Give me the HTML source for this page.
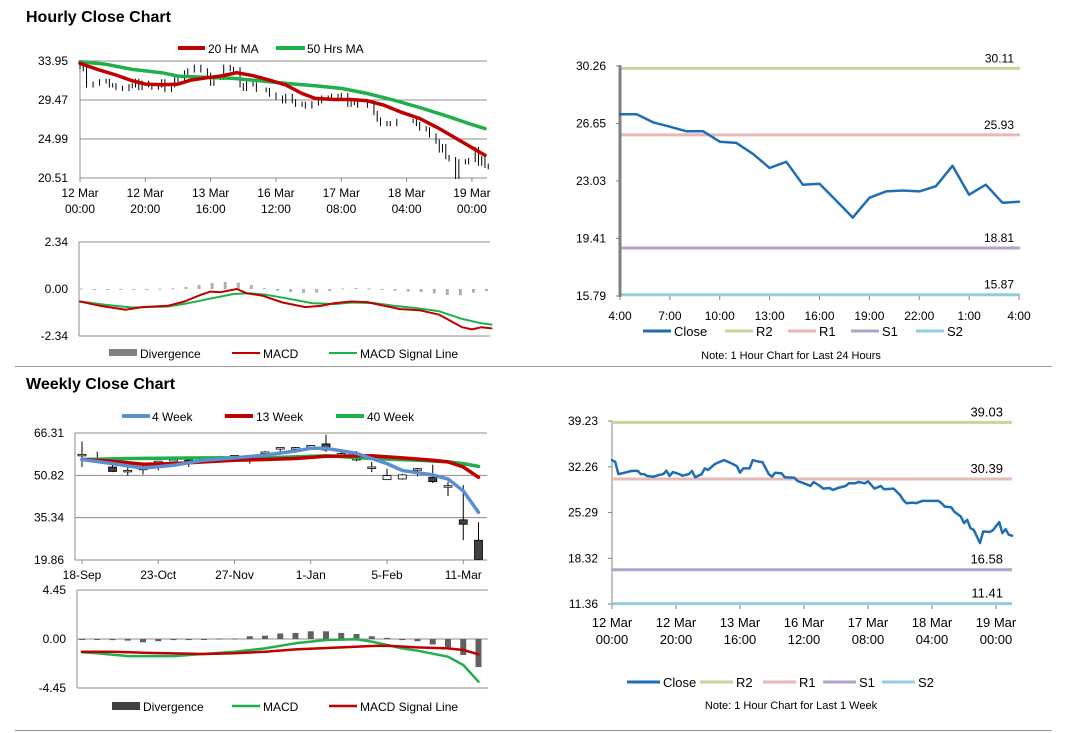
<!DOCTYPE html>
<html><head><meta charset="utf-8">
<style>
html,body{margin:0;padding:0;background:#fff;}
svg{display:block;font-family:"Liberation Sans",Arial,sans-serif;}
</style></head>
<body>
<svg id="s" width="1066" height="733" viewBox="0 0 1066 733" xmlns="http://www.w3.org/2000/svg">
<text x="26" y="22" font-size="16" font-weight="bold" fill="#000">Hourly Close Chart</text>
<text x="26" y="389" font-size="16" font-weight="bold" fill="#000">Weekly Close Chart</text>
<line x1="15" y1="366.5" x2="1052" y2="366.5" stroke="#999" stroke-width="1"/>
<line x1="15" y1="730.5" x2="1052" y2="730.5" stroke="#999" stroke-width="1"/>
</svg>
<script>
// ---------- DATA ----------
const hourIdx = [0,1,2,4,6,8,9,10,11,13,15,16,17,18,19,21,22,24,25,26,28,29,30,32,33,35,37,39,40,41,43,44,46,47,49,50,51,53,54,57,58,60,62,63,65,66,68,69,71,73,74,76,77,79,80,82,83,84,85,88,90,91,92,94,95,97,102,103,104,106,107,109,110,111,112,113,115,116,118,119,121,122,123,124,125];
const hourClose = [33.27,33.02,31.15,31.35,31.61,31.66,31.15,31.15,30.85,30.75,31.05,31.15,31.66,30.85,31.45,31.15,30.90,31.15,31.61,30.65,31.15,32.01,31.76,32.62,32.87,33.27,32.87,32.36,31.35,32.01,32.01,33.27,33.02,32.97,31.15,30.75,31.35,31.25,30.65,30.60,30.09,29.74,29.33,29.94,29.33,28.93,29.03,28.73,29.08,29.33,29.74,29.74,29.94,29.74,30.04,28.93,29.13,29.33,28.83,28.93,27.97,27.21,26.71,26.81,26.71,27.06,27.06,26.71,26.20,26.10,25.40,24.69,23.68,24.18,22.92,22.67,20.65,22.42,22.32,22.57,23.83,22.16,22.77,21.91,21.76];
const hourTickLabels = [["12 Mar","00:00"],["12 Mar","20:00"],["13 Mar","16:00"],["16 Mar","12:00"],["17 Mar","08:00"],["18 Mar","04:00"],["19 Mar","00:00"]];
const hourTickHours = [0,20,40,60,80,100,120];
const ma20Hours = [0,6,11,16,20,25,30,34,39,43,48,53,58,63,68,72,78,83,88,93,98,104,110,117,124];
const ma20Vals = [33.68,32.91,32.34,31.68,31.30,31.22,31.30,31.76,32.03,32.22,32.61,32.26,31.76,31.19,30.22,29.65,29.53,29.53,29.38,28.88,28.11,27.35,26.19,24.66,23.12];
const ma50Hours = [0,8,16,25,30,39,47,55,63,72,80,88,96,104,113,119,124];
const ma50Vals = [33.87,33.57,32.99,32.61,32.22,32.07,31.95,31.68,31.38,31.11,30.80,30.22,29.46,28.61,27.54,26.77,26.19];
const hTicks1 = [33.95,29.47,24.99,20.51];
const macdHHours = [0,6,14,19,27,32,37,40,43,48,51,56,62,69,74,78,83,88,93,98,104,110,117,120,123,126];
const macdHVals = [-0.62,-0.83,-1.03,-0.90,-0.83,-0.62,-0.29,-0.13,-0.16,0,-0.21,-0.34,-0.67,-0.90,-0.83,-0.70,-0.62,-0.65,-0.83,-1.00,-1.06,-1.28,-1.90,-2.01,-1.90,-1.96];
const sigHHours = [0,8,16,27,32,39,47,52,57,63,71,78,83,90,96,103,110,117,122,126];
const sigHVals = [-0.62,-0.79,-0.92,-0.87,-0.74,-0.51,-0.25,-0.21,-0.29,-0.46,-0.70,-0.75,-0.67,-0.70,-0.83,-0.95,-1.11,-1.49,-1.68,-1.77];
const divHVals = [0.02,-0.05,-0.05,-0.04,-0.03,0,0.02,0.04,0.1,0.2,0.3,0.35,0.32,0.2,0.05,-0.08,-0.15,-0.2,-0.18,-0.1,0.02,0.05,0.03,0,-0.08,-0.12,-0.15,-0.22,-0.3,-0.32,-0.18,-0.1];
const macdHTicks = [2.34,0.00,-2.34];

const dayLabels = ["4:00","7:00","10:00","13:00","16:00","19:00","22:00","1:00","4:00"];
const dayClose = [27.23,27.23,26.71,26.44,26.15,26.15,25.50,25.42,24.73,23.85,24.23,22.79,22.85,21.80,20.72,21.97,22.37,22.43,22.37,22.70,23.98,22.16,22.79,21.66,21.72];
const dayTicks = [30.26,26.65,23.03,19.41,15.79];
const dayLevels = [30.11,25.93,18.81,15.87];
const weekLevels = [39.03,30.39,16.58,11.41];
const levelNames = ["R2","R1","S1","S2"];
const weekTicks = [39.23,32.26,25.29,18.32,11.36];

const weekLabels = ["18-Sep","23-Oct","27-Nov","1-Jan","5-Feb","11-Mar"];
const wOpen  = [58.22,56.72,53.86,52.36,53.61,55.73,56.35,56.35,56.97,57.34,57.84,56.97,59.09,60.71,60.71,61.45,62.33,58.5,56.72,53.61,49.25,49.50,52.99,50.12,46.76,34.55,27.08];
const wClose = [58.22,56.72,52.24,52.36,52.86,55.73,56.35,56.10,56.97,57.34,57.84,56.97,59.09,60.71,60.71,61.45,60.08,58.5,56.72,53.61,50.74,50.99,52.99,48.50,46.76,32.93,20.11];
const wHigh  = [63.20,59.46,54.73,53.86,54.48,55.98,56.72,56.72,57.22,57.97,58.22,58.22,59.71,60.96,61.20,61.95,65.69,59.2,59.71,55.73,53.23,51.37,53.48,54.73,48.50,47.26,33.68];
const wLow   = [53.86,55.48,51.99,50.74,51.12,52.61,55.98,53.86,56.72,56.97,57.47,55.10,58.22,59.46,59.71,60.71,59.46,58.0,55.98,52.00,49.25,49.25,50.50,48.00,43.27,27.08,19.86];
const ma4W = [0,2,4,6,8,10,12,14,15,16,18,20,21,23,24,25,26];
const ma4V = [56.60,55.10,53.48,54.48,56.35,57.22,58.22,59.71,60.71,60.71,58.84,55.10,52.61,50.99,49.50,45.14,37.29];
const ma13W = [0,2,4,6,8,10,12,14,16,19,21,23,24,25,26];
const ma13V = [56.60,55.98,54.85,55.10,55.73,56.35,56.60,56.97,57.84,57.97,57.22,56.35,55.73,53.86,50.12];
const ma40W = [0,3,8,12,16,19,22,24,25,26];
const ma40V = [56.60,56.97,57.22,57.22,57.97,56.97,56.35,55.73,55.10,54.11];
const wTicks = [66.31,50.82,35.34,19.86];
const macdWW = [0,1,3,6,10,12,14,16,18,19,21,22,24,25,26];
const macdWV = [-1.21,-1.30,-1.55,-1.55,-1.15,-0.85,-0.39,-0.09,-0.03,-0.24,-0.85,-1.06,-1.61,-2.36,-3.88];
const sigWW = [0,2,4,8,10,12,14,17,19,20,22,24,25,26];
const sigWV = [-1.15,-1.15,-1.24,-1.36,-1.30,-1.15,-0.94,-0.76,-0.64,-0.61,-0.76,-0.85,-1.00,-1.39];
const divWV = [-0.05,-0.05,-0.1,-0.15,-0.3,-0.2,-0.1,-0.1,-0.05,0.05,0.05,0.25,0.3,0.5,0.55,0.7,0.7,0.55,0.45,0.25,0.1,-0.1,-0.2,-0.5,-0.75,-1.45,-2.55];
const macdWTicks = [4.45,0.00,-4.45];

// ---------- DRAW ----------
const S = document.getElementById('s');
const NS = 'http://www.w3.org/2000/svg';
function mk(tag, attrs, parent){
  const e = document.createElementNS(NS, tag);
  for (const k in attrs) e.setAttribute(k, attrs[k]);
  (parent||S).appendChild(e);
  return e;
}
function txt(x,y,s,size,anchor,fill){
  const t = mk('text',{x:x,y:y,'font-size':size||12,'text-anchor':anchor||'start',fill:fill||'#000'});
  t.textContent = s;
  return t;
}
function poly(xs, ys, color, w){
  const pts = xs.map((x,i)=>x.toFixed(1)+','+ys[i].toFixed(1)).join(' ');
  return mk('polyline',{points:pts,fill:'none',stroke:color,'stroke-width':w,'stroke-linejoin':'round','stroke-linecap':'round'});
}
function fmt(v){return v.toFixed(2);}

const x1 = h => 80 + h*3.266;
const y1 = v => 61 + (33.95 - v)/13.44*117;
const y1m = v => 289 - v/2.34*47;
const x2 = w => 82 + w*15.25;
const y2 = v => 433 + (66.31 - v)/46.45*127;
const y2m = v => 639 - v/4.45*49;
const x3 = i => 620 + i*(399/24);
const y3 = v => 66 + (30.26 - v)/14.47*230;
const x4 = h => 612 + h*3.2;
const y4 = v => 421 + (39.23 - v)/27.87*183;

// ===== Chart 1 =====
hTicks1.forEach(v=>{
  const l = mk('line',{x1:80,y1:y1(v),x2:487,y2:y1(v),stroke:'#8c8c8c','stroke-width':1});
  
  
  const t = txt(68,y1(v)+4,fmt(v),12,'end');
  
  
});
mk('line',{x1:80,y1:61,x2:80,y2:178,stroke:'#8c8c8c'});
hourTickHours.forEach((h,i)=>{
  mk('line',{x1:x1(h),y1:178,x2:x1(h),y2:182,stroke:'#8c8c8c'});
  const a = txt(x1(h),197,hourTickLabels[i][0],12,'middle');
  
  
  txt(x1(h),213,hourTickLabels[i][1],12,'middle');
});
hourIdx.forEach((h,i)=>{
  const c = hourClose[i], o = i>0 ? hourClose[i-1] : c;
  const top = Math.max(o,c)+0.25, bot = Math.min(o,c)-0.25;
  const k = mk('line',{x1:x1(h),y1:y1(top),x2:x1(h),y2:y1(bot),stroke:'#000','stroke-width':1});
  
  
});
let p = poly(ma50Hours.map(x1), ma50Vals.map(y1), '#1fb04b', 3.5);


p = poly(ma20Hours.map(x1), ma20Vals.map(y1), '#c00000', 3.5);


mk('line',{x1:178,y1:48,x2:205,y2:48,stroke:'#c00000','stroke-width':4});
txt(208,53,'20 Hr MA',12);
mk('line',{x1:276,y1:48,x2:305,y2:48,stroke:'#1fb04b','stroke-width':4});
txt(307,53,'50 Hrs MA',12);

// ===== Chart 1 MACD =====
[2.34,-2.34].forEach(v=>mk('line',{x1:79,y1:y1m(v),x2:490,y2:y1m(v),stroke:'#8c8c8c'}));
mk('line',{x1:79,y1:y1m(2.34),x2:79,y2:y1m(-2.34),stroke:'#8c8c8c'});
macdHTicks.forEach(v=>{
  const t = txt(68,y1m(v)+4,fmt(v),12,'end');
  
  
});
divHVals.forEach((v,i)=>{
  const y0 = y1m(0), yv = y1m(v);
  const b = mk('rect',{x:x1(i*4),y:Math.min(y0,yv),width:3,height:Math.max(1,Math.abs(yv-y0)),fill:'#b0b0b0'});
  
  
});
p = poly(sigHHours.map(x1), sigHVals.map(y1m), '#1fb04b', 2);


p = poly(macdHHours.map(x1), macdHVals.map(y1m), '#c00000', 2);


mk('rect',{x:109,y:349,width:28,height:7,fill:'#808080'});
txt(140,358,'Divergence',12);
mk('line',{x1:232,y1:353,x2:260,y2:353,stroke:'#c00000','stroke-width':2});
txt(263,358,'MACD',12);
mk('line',{x1:329,y1:353,x2:357,y2:353,stroke:'#1fb04b','stroke-width':2});
txt(360,358,'MACD Signal Line',12);

// ===== Chart 3 =====
const lvlColors = ['#c3d69b','#e6b9b8','#b3a2c7','#93cddd'];
dayTicks.forEach(v=>{
  mk('line',{x1:616,y1:y3(v),x2:620,y2:y3(v),stroke:'#808080'});
  const t = txt(606,y3(v)+4,fmt(v),12,'end');
  
  
});
dayLabels.forEach((s,i)=>{
  const xx = x3(i*3);
  mk('line',{x1:xx,y1:296,x2:xx,y2:300,stroke:'#808080'});
  const t = txt(xx,320,s,12,'middle');
  
  
});
dayLevels.forEach((v,i)=>{
  const l = mk('line',{x1:620,y1:y3(v),x2:1020,y2:y3(v),stroke:lvlColors[i],'stroke-width':3});
  
  
  txt(1014,y3(v)-6,fmt(v),12,'end');
});
mk('line',{x1:620,y1:65,x2:620,y2:297,stroke:'#808080','stroke-width':3});
p = poly(dayClose.map((v,i)=>x3(i)), dayClose.map(y3), '#1f6eb4', 2.5);


function levelLegend(y, noteY, note, xs, len){
  const cols = ['#1f6eb4'].concat(lvlColors), names = ['Close'].concat(levelNames);
  names.forEach((n,i)=>{
    mk('line',{x1:xs[i],y1:y,x2:xs[i]+len,y2:y,stroke:cols[i],'stroke-width':3});
    const t = txt(xs[i]+len+3,y+5,n,13);
    
    
  });
  txt(791,noteY,note,11,'middle');
}
levelLegend(331,359,'Note: 1 Hour Chart for Last 24 Hours',[643,725,788,851,916],28);

// ===== Chart 4 =====
weekTicks.forEach(v=>{
  mk('line',{x1:608,y1:y4(v),x2:612,y2:y4(v),stroke:'#808080'});
  const t = txt(598,y4(v)+4,fmt(v),12,'end');
  
  
});
mk('line',{x1:612,y1:421,x2:612,y2:605,stroke:'#808080'});
hourTickHours.forEach((h,i)=>{
  mk('line',{x1:x4(h),y1:604,x2:x4(h),y2:609,stroke:'#808080'});
  const t = txt(x4(h),627,hourTickLabels[i][0],13,'middle');
  
  
  txt(x4(h),644,hourTickLabels[i][1],13,'middle');
});
weekLevels.forEach((v,i)=>{
  const l = mk('line',{x1:612,y1:y4(v),x2:1012,y2:y4(v),stroke:lvlColors[i],'stroke-width':3});
  
  
  txt(1003,y4(v)-6,fmt(v),13,'end');
});
p = poly(hourIdx.map(x4), hourClose.map(y4), '#1f6eb4', 2.5);


levelLegend(682,709,'Note: 1 Hour Chart for Last 1 Week',[627,700,763,823,882],33);

// ===== Chart 2 =====
wTicks.forEach(v=>{
  const l = mk('line',{x1:75,y1:y2(v),x2:487,y2:y2(v),stroke:'#8c8c8c'});
  
  
  txt(64,y2(v)+4,fmt(v),12,'end');
});
mk('line',{x1:75,y1:433,x2:75,y2:560,stroke:'#8c8c8c'});
weekLabels.forEach((s,i)=>{
  const xx = x2(i*5);
  mk('line',{x1:xx,y1:560,x2:xx,y2:564,stroke:'#8c8c8c'});
  const t = txt(xx,579,s,12,'middle');
  
  
});
wOpen.forEach((o,i)=>{
  const c = wClose[i], xx = x2(i);
  mk('line',{x1:xx,y1:y2(wHigh[i]),x2:xx,y2:y2(wLow[i]),stroke:'#000','stroke-width':1});
  const top = Math.max(o,c), bot = Math.min(o,c);
  const h = Math.max(1.5, y2(bot)-y2(top));
  const b = mk('rect',{x:xx-4,y:y2(top)-(h<2?0.75:0),width:8,height:h,fill:(c<o?'#404040':'#fff'),stroke:'#000','stroke-width':0.8});
  
  
});
p = poly(ma40W.map(x2), ma40V.map(y2), '#1fb04b', 3.5);


p = poly(ma13W.map(x2), ma13V.map(y2), '#c00000', 3.5);


p = poly(ma4W.map(x2), ma4V.map(y2), '#5b8fd0', 3.5);


mk('line',{x1:122,y1:416,x2:150,y2:416,stroke:'#5b8fd0','stroke-width':4});
txt(152,421,'4 Week',12);
mk('line',{x1:225,y1:416,x2:253,y2:416,stroke:'#c00000','stroke-width':4});
txt(256,421,'13 Week',12);
mk('line',{x1:336,y1:416,x2:364,y2:416,stroke:'#1fb04b','stroke-width':4});
txt(367,421,'40 Week',12);

// ===== Chart 2 MACD =====
[4.45,-4.45].forEach(v=>mk('line',{x1:77,y1:y2m(v),x2:488,y2:y2m(v),stroke:'#8c8c8c'}));
mk('line',{x1:77,y1:y2m(0),x2:488,y2:y2m(0),stroke:'#8c8c8c'});
mk('line',{x1:77,y1:y2m(4.45),x2:77,y2:y2m(-4.45),stroke:'#8c8c8c'});
macdWTicks.forEach(v=>{
  const t = txt(66,y2m(v)+4,fmt(v),12,'end');
  
  
});
divWV.forEach((v,i)=>{
  const y0 = y2m(0), yv = y2m(v);
  const b = mk('rect',{x:x2(i)-3,y:Math.min(y0,yv),width:6,height:Math.max(1,Math.abs(yv-y0)),fill:'#606060'});
  
  
});
p = poly(macdWW.map(x2), macdWV.map(y2m), '#1fb04b', 2.5);


p = poly(sigWW.map(x2), sigWV.map(y2m), '#c00000', 2.5);


mk('rect',{x:112,y:702,width:28,height:8,fill:'#404040'});
txt(143,711,'Divergence',12);
mk('line',{x1:232,y1:706,x2:260,y2:706,stroke:'#1fb04b','stroke-width':2.5});
txt(263,711,'MACD',12);
mk('line',{x1:329,y1:706,x2:357,y2:706,stroke:'#c00000','stroke-width':2.5});
txt(360,711,'MACD Signal Line',12);
</script>
</body></html>
